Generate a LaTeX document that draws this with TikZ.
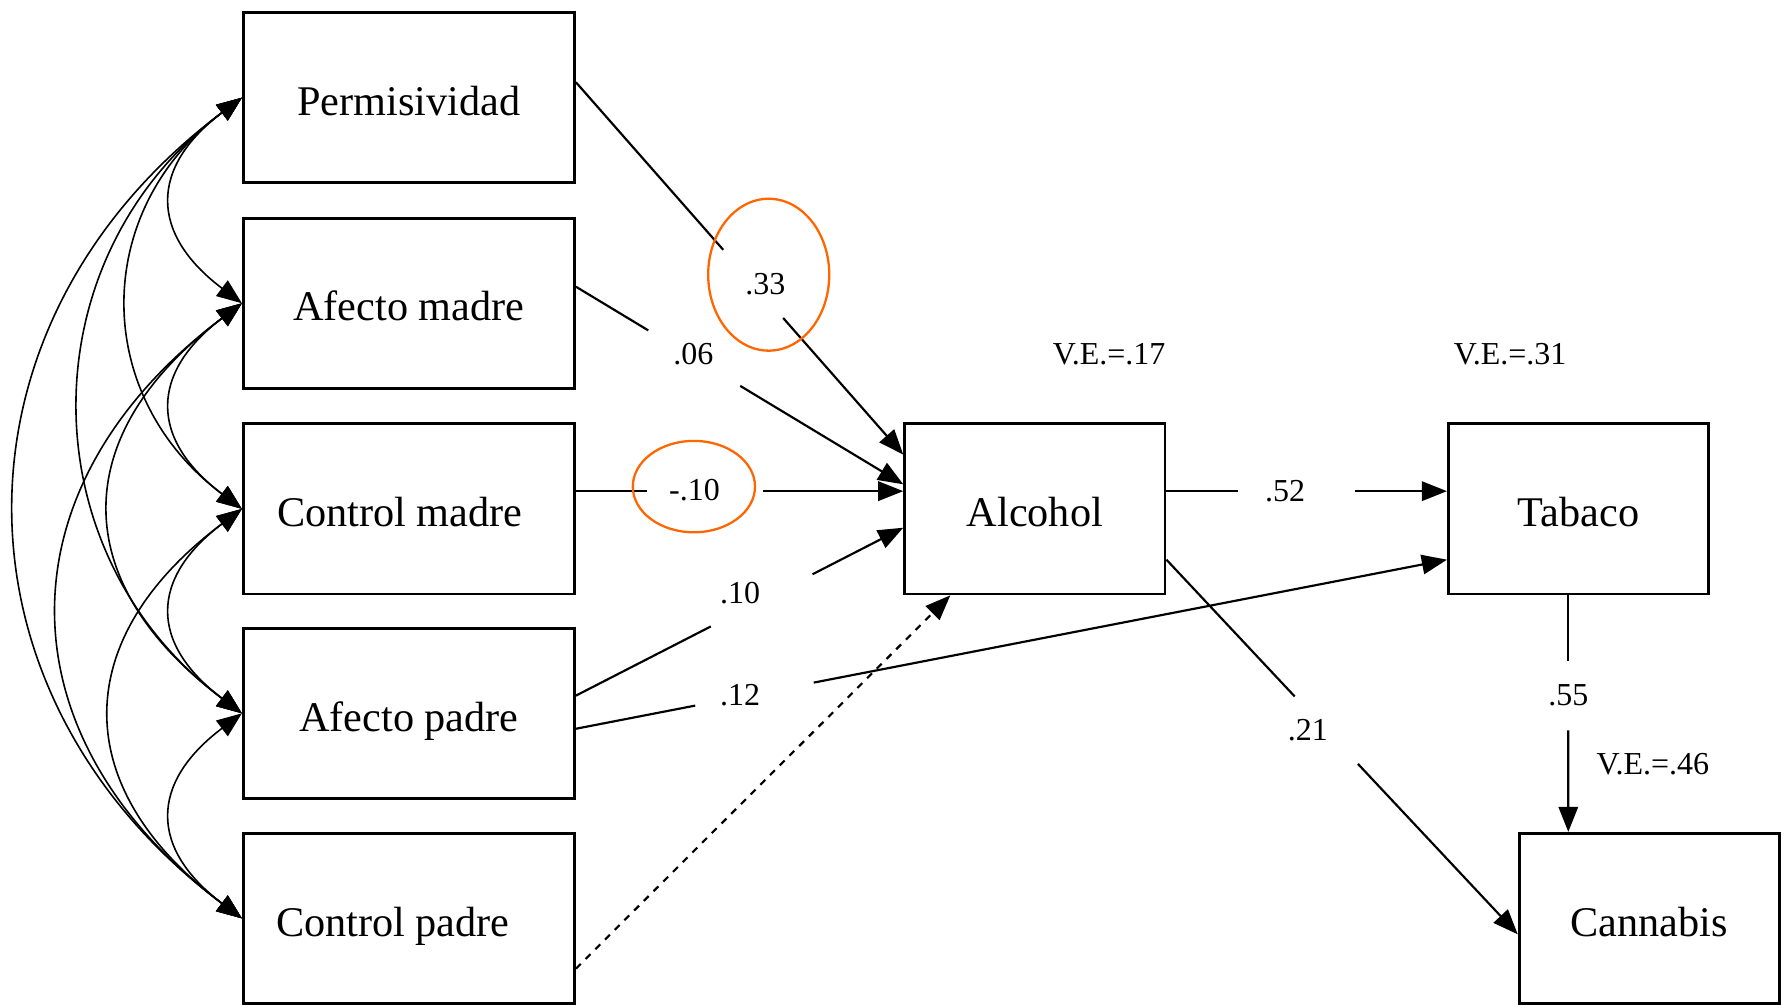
\documentclass[tikz,border=0pt]{standalone}
\usepackage{fontspec}
\setmainfont{Liberation Serif}
\usetikzlibrary{arrows.meta,calc}
\definecolor{orng}{RGB}{255,102,0}
\begin{document}
\begin{tikzpicture}[x=0.5pt,y=-0.5pt,
  box/.style={draw,line width=1.2pt,minimum height=74.5pt,inner sep=0pt,text height=15.5pt,text depth=0pt,font=\fontsize{18.5}{22}\selectfont},
  lbox/.style={box,minimum width=145pt},
  rbox/.style={box,minimum width=114pt},
  link/.style={line width=0.95pt},
  arr/.style={link,-{Triangle[length=11pt,width=8.5pt]}},
  dasharr/.style={arr,dash pattern=on 3pt off 3pt},
  cov/.style={line width=0.7pt,{Triangle[length=11pt,width=8.5pt]}-{Triangle[length=11pt,width=8.5pt]}},
  coef/.style={font=\fontsize{14}{16}\selectfont,inner sep=0pt},
  ring/.style={draw=orng,line width=1pt}]
\useasboundingbox (0,0) rectangle (1568,879);

% boxes
\node[lbox] (perm) at (358,85.5) {Permisividad};
\node[lbox] (am) at (358,265.5) {Afecto madre};
\node[lbox] (cm) at (358,445.5) {\hspace*{-8pt}Control madre};
\node[lbox] (ap) at (358,624.5) {Afecto padre};
\node[lbox] (cp) at (358,804) {\hspace*{-14pt}Control padre};
\node[rbox] (alc) at (906,445.5) {Alcohol};
\node[rbox] (tab) at (1382,445.5) {Tabaco};
\node[rbox] (can) at (1444,804) {Cannabis};

% covariances
\draw[cov] (perm.west) .. controls +(-81,61) and +(-81,-61) .. (am.west);
\draw[cov] (am.west) .. controls +(-81,61) and +(-81,-61) .. (cm.west);
\draw[cov] (cm.west) .. controls +(-81,61) and +(-81,-61) .. (ap.west);
\draw[cov] (ap.west) .. controls +(-81,61) and +(-81,-61) .. (cp.west);
\draw[cov] (perm.west) .. controls +(-132,99) and +(-132,-99) .. (cm.west);
\draw[cov] (am.west) .. controls +(-153,115) and +(-153,-115) .. (ap.west);
\draw[cov] (cm.west) .. controls +(-152,114) and +(-152,-114) .. (cp.west);
\draw[cov] (perm.west) .. controls +(-188,141) and +(-188,-141) .. (ap.west);
\draw[cov] (am.west) .. controls +(-213,160) and +(-213,-160) .. (cp.west);
\draw[cov] (perm.west) .. controls +(-263,197) and +(-263,-197) .. (cp.west);

% end points of paths
\coordinate (s1) at ([yshift=6.75pt]perm.east);
\coordinate (e1) at ([yshift=23.75pt]alc.west);
\coordinate (s2) at ([yshift=7.25pt]am.east);
\coordinate (e2) at ([yshift=10.75pt]alc.west);
\coordinate (s3) at ([yshift=7.75pt]cm.east);
\coordinate (e3) at ([yshift=7.75pt]alc.west);
\coordinate (s4) at ([yshift=7.75pt]ap.east);
\coordinate (e4) at ([yshift=-8.25pt]alc.west);
\coordinate (s5) at ([yshift=-6.75pt]ap.east);
\coordinate (e5) at ([yshift=-22.25pt]tab.west);
\coordinate (s6) at ([yshift=-22pt]cp.east);
\coordinate (e6) at ([xshift=-37pt]alc.south);
\coordinate (s7) at ([yshift=7.75pt]alc.east);
\coordinate (e7) at ([yshift=7.75pt]tab.west);
\coordinate (s8) at ([yshift=-22.25pt]alc.east);
\coordinate (e8) at ([yshift=-7pt]can.west);
\coordinate (s9) at ([xshift=-4.5pt]tab.south);
\coordinate (e9) at ([xshift=-35.5pt]can.north);

% paths
\draw[link] (s1) -- ($(s1)!0.45!(e1)$);  \draw[arr] ($(s1)!0.633!(e1)$) -- (e1);
\draw[link] (s2) -- ($(s2)!0.221!(e2)$); \draw[arr] ($(s2)!0.502!(e2)$) -- (e2);
\draw[link] (s3) -- ($(s3)!0.218!(e3)$); \draw[arr] ($(s3)!0.571!(e3)$) -- (e3);
\draw[link] (s4) -- ($(s4)!0.412!(e4)$); \draw[arr] ($(s4)!0.723!(e4)$) -- (e4);
\draw[link] (s5) -- ($(s5)!0.137!(e5)$); \draw[arr] ($(s5)!0.273!(e5)$) -- (e5);
\draw[dasharr] (s6) -- (e6);
\draw[link] (s7) -- ($(s7)!0.254!(e7)$); \draw[arr] ($(s7)!0.673!(e7)$) -- (e7);
\draw[link] (s8) -- ($(s8)!0.365!(e8)$); \draw[arr] ($(s8)!0.545!(e8)$) -- (e8);
\draw[link] (s9) -- ($(s9)!0.276!(e9)$); \draw[arr] ($(s9)!0.571!(e9)$) -- (e9);

% coefficients
\node[coef] (l33) at (670,249) {.33};
\node[coef] (l06) at (607,310) {.06};
\node[coef] (l10m) at (608,429) {-.10};
\node[coef] (l10) at (648,519) {.10};
\node[coef] (l12) at (648,609) {.12};
\node[coef] (ve17) at (971,310) {V.E.=.17};
\node[coef] (ve31) at (1322,310) {V.E.=.31};
\node[coef] (l52) at (1125,430) {.52};
\node[coef] (l21) at (1145,639) {.21};
\node[coef] (l55) at (1373,609) {.55};
\node[coef] (ve46) at (1447,669) {V.E.=.46};

% highlights
\draw[ring] (673,240.5) ellipse [x radius=26.5pt, y radius=33.25pt];
\draw[ring] (607.5,426) ellipse [x radius=26.75pt, y radius=20pt];
\end{tikzpicture}
\end{document}
